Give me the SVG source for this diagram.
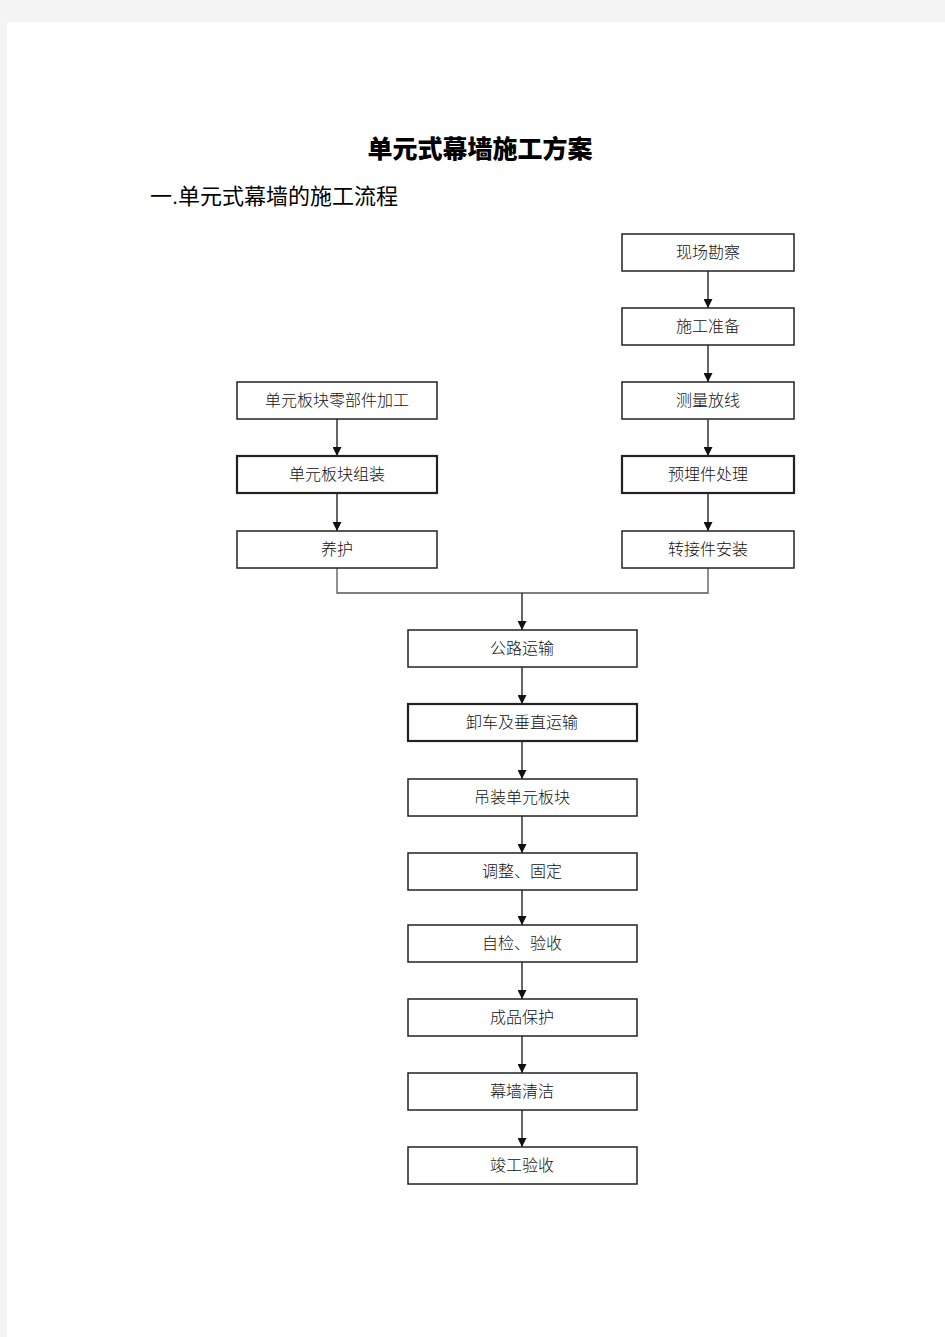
<svg xmlns="http://www.w3.org/2000/svg" width="945" height="1337" viewBox="0 0 945 1337">
<style>
.box{fill:#fff;stroke:#222;stroke-width:1.5}
.thick{stroke-width:2.2}
.t{font-family:"Liberation Sans","Noto Sans CJK SC",sans-serif;font-size:16px;font-weight:300;fill:#111;text-anchor:middle}
.c{fill:none;stroke:#333;stroke-width:1.5}
.c2{fill:none;stroke:#555;stroke-width:1.3}
</style>
<defs>
<marker id="ah" viewBox="0 0 10 10" refX="10" refY="5" markerWidth="10" markerHeight="9" markerUnits="userSpaceOnUse" orient="auto">
<path d="M0,0 L10,5 L0,10 z" fill="#111"/>
</marker>
</defs>
<rect x="0" y="0" width="945" height="1337" fill="#f4f4f4"/>
<rect x="7" y="22" width="938" height="1315" fill="#fff"/>
<text x="807" y="92" font-family="Liberation Sans,sans-serif" font-size="4" fill="#c96">.</text>
<text x="480" y="158" font-family="'Liberation Sans','Noto Sans CJK SC',sans-serif" font-size="25" font-weight="900" text-anchor="middle" fill="#000">单元式幕墙施工方案</text>
<text x="150" y="204" font-family="'Liberation Sans','Noto Sans CJK SC',sans-serif" font-size="22" fill="#000">一.单元式幕墙的施工流程</text>

<g id="connectors">
<line class="c" x1="708" y1="271" x2="708" y2="308" marker-end="url(#ah)"/>
<line class="c" x1="708" y1="345" x2="708" y2="382" marker-end="url(#ah)"/>
<line class="c" x1="708" y1="419" x2="708" y2="456" marker-end="url(#ah)"/>
<line class="c" x1="708" y1="494" x2="708" y2="531" marker-end="url(#ah)"/>
<line class="c" x1="337" y1="419" x2="337" y2="456" marker-end="url(#ah)"/>
<line class="c" x1="337" y1="494" x2="337" y2="531" marker-end="url(#ah)"/>
<polyline class="c2" points="337,568 337,593 708,593 708,568"/>
<line class="c" x1="522" y1="593" x2="522" y2="630" marker-end="url(#ah)"/>
<line class="c" x1="522" y1="667" x2="522" y2="704" marker-end="url(#ah)"/>
<line class="c" x1="522" y1="742" x2="522" y2="779" marker-end="url(#ah)"/>
<line class="c" x1="522" y1="816" x2="522" y2="853" marker-end="url(#ah)"/>
<line class="c" x1="522" y1="890" x2="522" y2="925" marker-end="url(#ah)"/>
<line class="c" x1="522" y1="962" x2="522" y2="999" marker-end="url(#ah)"/>
<line class="c" x1="522" y1="1036" x2="522" y2="1073" marker-end="url(#ah)"/>
<line class="c" x1="522" y1="1110" x2="522" y2="1147" marker-end="url(#ah)"/>
</g>

<g id="n1"><rect class="box" x="622" y="234" width="172" height="37"/><text class="t" x="708" y="258">现场勘察</text></g>
<g id="n2"><rect class="box" x="622" y="308" width="172" height="37"/><text class="t" x="708" y="332">施工准备</text></g>
<g id="n3"><rect class="box" x="622" y="382" width="172" height="37"/><text class="t" x="708" y="406">测量放线</text></g>
<g id="n4"><rect class="box thick" x="622" y="456" width="172" height="37"/><text class="t" x="708" y="480">预埋件处理</text></g>
<g id="n5"><rect class="box" x="622" y="531" width="172" height="37"/><text class="t" x="708" y="555">转接件安装</text></g>

<g id="m1"><rect class="box" x="237" y="382" width="200" height="37"/><text class="t" x="337" y="406">单元板块零部件加工</text></g>
<g id="m2"><rect class="box thick" x="237" y="456" width="200" height="37"/><text class="t" x="337" y="480">单元板块组装</text></g>
<g id="m3"><rect class="box" x="237" y="531" width="200" height="37"/><text class="t" x="337" y="555">养护</text></g>

<g id="s1"><rect class="box" x="408" y="630" width="229" height="37"/><text class="t" x="522" y="654">公路运输</text></g>
<g id="s2"><rect class="box thick" x="408" y="704" width="229" height="37"/><text class="t" x="522" y="728">卸车及垂直运输</text></g>
<g id="s3"><rect class="box" x="408" y="779" width="229" height="37"/><text class="t" x="522" y="803">吊装单元板块</text></g>
<g id="s4"><rect class="box" x="408" y="853" width="229" height="37"/><text class="t" x="522" y="877">调整、固定</text></g>
<g id="s5"><rect class="box" x="408" y="925" width="229" height="37"/><text class="t" x="522" y="949">自检、验收</text></g>
<g id="s6"><rect class="box" x="408" y="999" width="229" height="37"/><text class="t" x="522" y="1023">成品保护</text></g>
<g id="s7"><rect class="box" x="408" y="1073" width="229" height="37"/><text class="t" x="522" y="1097">幕墙清洁</text></g>
<g id="s8"><rect class="box" x="408" y="1147" width="229" height="37"/><text class="t" x="522" y="1171">竣工验收</text></g>
</svg>
